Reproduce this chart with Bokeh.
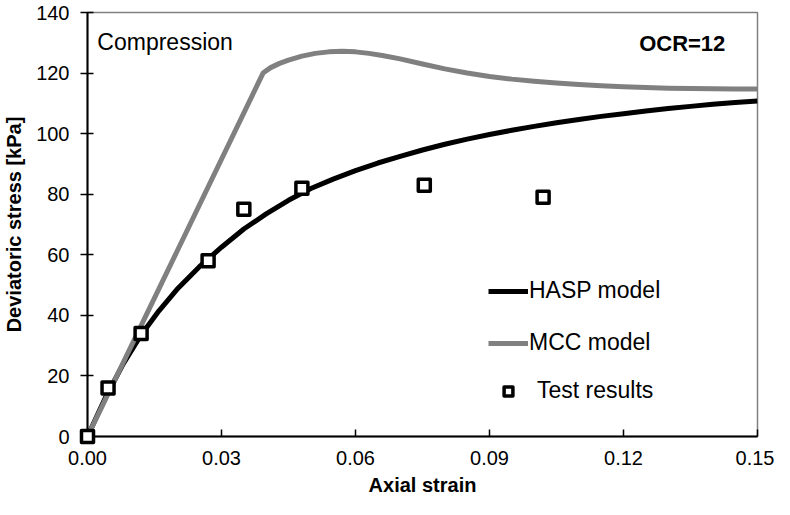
from bokeh.plotting import figure
from bokeh.models import Range1d, FixedTicker, NumeralTickFormatter, Label, Legend, LegendItem
from bokeh.embed import file_html
from bokeh.resources import INLINE

# ---- data ----
hasp_strain = [0, 0.004, 0.008, 0.012, 0.016, 0.020, 0.025, 0.030, 0.035, 0.040, 0.045,
               0.050, 0.055, 0.060, 0.065, 0.070, 0.075, 0.080, 0.085, 0.090, 0.095,
               0.100, 0.105, 0.110, 0.115, 0.120, 0.125, 0.130, 0.135, 0.140, 0.145, 0.150]
hasp_stress = [0, 12.8, 24.0, 33.5, 41.5, 48.5, 56.0, 62.5, 68.5, 73.5, 78.0,
               81.9, 85.0, 87.8, 90.3, 92.5, 94.6, 96.5, 98.2, 99.7, 101.1,
               102.4, 103.6, 104.7, 105.7, 106.6, 107.5, 108.3, 109.0, 109.7, 110.3, 110.8]

mcc_strain = [0, 0.020, 0.0393, 0.041, 0.043, 0.045, 0.048, 0.051, 0.054, 0.057, 0.060,
              0.063, 0.066, 0.070, 0.075, 0.080, 0.085, 0.090, 0.095, 0.100, 0.105,
              0.110, 0.115, 0.120, 0.125, 0.130, 0.135, 0.140, 0.145, 0.150]
mcc_stress = [0, 61.0, 120.0, 121.8, 123.2, 124.3, 125.6, 126.5, 127.0, 127.2, 127.0,
              126.5, 125.8, 124.7, 123.0, 121.4, 120.0, 118.9, 118.0, 117.3, 116.7,
              116.2, 115.8, 115.5, 115.2, 115.0, 114.9, 114.8, 114.75, 114.7]

test_strain = [0, 0.0046, 0.012, 0.027, 0.035, 0.048, 0.0754, 0.102]
test_stress = [0, 16, 34, 58, 75, 82, 83, 79]

x_ticks = [0, 0.03, 0.06, 0.09, 0.12, 0.15]
y_ticks = [0, 20, 40, 60, 80, 100, 120, 140]

FONT = "Liberation Sans"

p = figure(width=774, height=499, output_backend="svg", toolbar_location=None,
           x_range=Range1d(0, 0.15), y_range=Range1d(0, 140),
           min_border_left=82, min_border_right=17, min_border_top=12, min_border_bottom=63)

p.grid.visible = False
p.outline_line_color = "#808080"
p.outline_line_width = 1.5
p.background_fill_color = "white"
p.border_fill_color = "white"

r_hasp = p.line(hasp_strain, hasp_stress, line_color="black", line_width=5, line_join="round")
r_mcc = p.line(mcc_strain, mcc_stress, line_color="#808080", line_width=5, line_join="round")
r_test = p.scatter(test_strain, test_stress, marker="square", size=12,
                   line_color="black", line_width=3.5, fill_color="white",
                   line_join="round", level="overlay")

# axes
xa = p.xaxis[0]
xa.ticker = FixedTicker(ticks=x_ticks)
xa.formatter = NumeralTickFormatter(format="0.00")
xa.axis_label = "Axial strain"
ya = p.yaxis[0]
ya.ticker = FixedTicker(ticks=y_ticks)
ya.axis_label = "Deviatoric stress [kPa]"

for ax in (xa, ya):
    ax.axis_line_color = "black"
    ax.axis_line_width = 2
    ax.major_tick_line_color = "black"
    ax.major_tick_line_width = 1.5
    ax.minor_tick_line_color = None
    ax.major_label_text_font = FONT
    ax.major_label_text_font_size = "20px"
    ax.major_label_text_color = "black"
    ax.axis_label_text_font = FONT
    ax.axis_label_text_font_size = "20px"
    ax.axis_label_text_font_style = "bold"
    ax.axis_label_text_color = "black"

xa.major_tick_in = 7
xa.major_tick_out = 0
xa.major_label_standoff = 14
xa.axis_label_standoff = 6

ya.major_tick_in = 6
ya.major_tick_out = 7
ya.major_label_standoff = 11
ya.axis_label_standoff = 8

# text annotations
p.add_layout(Label(x=0.0022, y=130.4, text="Compression", text_font=FONT,
                   text_font_size="23px", text_baseline="alphabetic", text_color="black"))
p.add_layout(Label(x=0.1428, y=129.9, text="OCR=12", text_font=FONT, text_font_style="bold",
                   text_font_size="22px", text_baseline="alphabetic", text_align="right",
                   text_color="black"))

common = dict(padding=0, margin=0, spacing=25, glyph_height=22, glyph_width=40,
              label_height=22, label_text_font=FONT, label_text_font_size="23px",
              label_text_color="black", border_line_alpha=0, background_fill_alpha=0)
leg1 = Legend(items=[LegendItem(label="HASP model", renderers=[r_hasp]),
                     LegendItem(label="MCC model", renderers=[r_mcc])],
              location=(401, 80), label_standoff=1, **common)
leg2 = Legend(items=[LegendItem(label="Test results", renderers=[r_test])],
              location=(401, 32), label_standoff=9, **common)
p.add_layout(leg1)
p.add_layout(leg2)

open("out.html", "w").write(file_html(p, INLINE))
